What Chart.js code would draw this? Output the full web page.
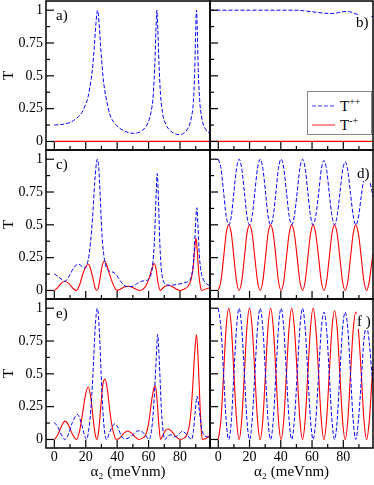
<!DOCTYPE html>
<html>
<head>
<meta charset="utf-8">
<script src="https://cdn.jsdelivr.net/npm/chart.js"></script>
<style>
  body { margin: 0; background: #fff; }
  #wrap { position: relative; width: 374px; height: 485px; overflow: hidden; font-family: "Liberation Serif", "Times New Roman", serif; }
  #wrap canvas { position: absolute; left: 0; top: 0; }
  .pl { position: absolute; font-size: 15px; line-height: 15px; background: #fff; padding: 0 1px; color: #000; }
  #legend { position: absolute; left: 307px; top: 91px; width: 63px; height: 42px; border: 1px solid #888; background: #fff; }
  #legend svg { position: absolute; left: 4px; }
  #legend .txt { position: absolute; left: 32px; font-size: 15px; line-height: 15px; }
  #legend sup { font-size: 10px; vertical-align: 6px; line-height: 0; }
</style>
</head>
<body>
<div id="wrap">
  <div class="pl" style="left:55px;top:8px">a)</div>
  <div class="pl" style="left:355px;top:15px">b)</div>
  <div class="pl" style="left:55px;top:157px">c)</div>
  <div class="pl" style="left:356px;top:166px">d)</div>
  <div class="pl" style="left:55px;top:306px">e)</div>
  <div class="pl" style="left:356px;top:314px">f )</div>
  <div id="legend">
    <svg width="24" height="4" style="top:12px"><line x1="0" y1="2" x2="23" y2="2" stroke="#7878ff" stroke-width="1.5" stroke-dasharray="4 2"/></svg>
    <span class="txt" style="top:7px">T<sup>++</sup></span>
    <svg width="24" height="4" style="top:31px"><line x1="0" y1="2" x2="23" y2="2" stroke="#ff4040" stroke-width="1.2"/></svg>
    <span class="txt" style="top:26px">T<sup>-+</sup></span>
  </div>
</div>
<script>
// tick positions
const xTicks = [0, 10, 20, 30, 40, 50, 60, 70, 80, 90];
const yTicks = [0, 0.125, 0.25, 0.375, 0.5, 0.625, 0.75, 0.875, 1];

// a)
const aX = [0,5,10,14,17.5,19.5,21.5,23.5,24.5,25.5,26.5,27.5,28.5,29.5,30.5,31.5,33.5,35.5,39,43,47,50.5,54,57,59.5,61.5,63,64,64.7,65.3,65.9,66.6,67.6,69,71,74,77,79.5,82,85,87,88.5,89.4,90,90.5,91,91.6,92.5,94,96,99];
const aPP = [0.125,0.13,0.145,0.175,0.22,0.27,0.34,0.48,0.58,0.73,0.9,1.0,0.9,0.72,0.56,0.44,0.3,0.2,0.13,0.09,0.068,0.062,0.07,0.095,0.14,0.22,0.36,0.6,0.85,1.0,0.85,0.6,0.36,0.21,0.13,0.08,0.058,0.052,0.06,0.1,0.17,0.3,0.55,0.85,1.0,0.85,0.55,0.32,0.17,0.1,0.06];
const aMPx = [0, 20, 40, 60, 80, 99];
const aMP = [0, 0, 0, 0, 0, 0];

// b)
const bX = [-5,0,10,20,30,40,50,55,62,68,73,77,81,84,88,92,96,99];
const bPP = [1,1,1,1,1,1,1,0.995,0.985,0.977,0.975,0.982,0.99,0.988,0.972,0.955,0.95,0.952];
const bMPx = [-5, 20, 40, 60, 80, 99];
const bMP = [0, 0, 0, 0, 0, 0];

// c)
const cPPx = [0,3,6.8,9.5,12.5,15.3,17.5,19.5,21.5,23,24.3,25.6,26.6,27.4,28.3,29.2,30.2,31.2,32.5,34,36,38,40,42.5,45,47,50,53,55.5,58,60,61.5,62.8,63.8,64.7,65.5,66.3,67.2,68.2,69.5,71,73,76,80,83,85.3,87,88.3,89.3,90.1,90.7,91.4,92.3,93.5,95,97,99];
const cPP = [0.127,0.1,0.07,0.11,0.175,0.2,0.185,0.17,0.23,0.36,0.55,0.8,0.95,1.0,0.93,0.72,0.45,0.3,0.2,0.155,0.145,0.135,0.11,0.065,0.035,0.03,0.032,0.055,0.07,0.075,0.085,0.12,0.22,0.4,0.7,0.89,0.68,0.35,0.15,0.07,0.045,0.04,0.042,0.05,0.06,0.07,0.1,0.18,0.35,0.55,0.63,0.5,0.27,0.14,0.08,0.05,0.035];
const cMPx = [0,2,4,6.8,9.5,12,14,16,18,20,21.7,23.2,24.8,26,27,28,29.2,30.5,31.8,33.2,35,37,38.7,40,42,44.5,47,49.5,52,54.5,56.5,58.5,60.5,62,63.6,64.8,66,67.4,68.8,70.5,72.6,75,77.5,80,82.5,85,87,88.4,89.4,90.2,91,92,93,93.8,95.5,97.5,99];
const cMP = [0,0.02,0.05,0.07,0.05,0.015,0,0.04,0.12,0.18,0.2,0.16,0.08,0.02,0,0.02,0.1,0.19,0.225,0.2,0.13,0.06,0.015,0,0.01,0.027,0.032,0.025,0.01,0,0.01,0.04,0.1,0.16,0.205,0.16,0.06,0,0.015,0.032,0.038,0.03,0.012,0,0.01,0.03,0.08,0.18,0.32,0.4,0.3,0.12,0.03,0,0.008,0.015,0.02];

// d) and f) share one set of x readings
const dfX = [0,1.7,3.4,5,6.7,8.4,10,11.7,13.3,15,16.7,18.3,20,21.7,23.4,25.1,26.8,28.5,30.2,31.8,33.5,35.2,36.9,38.5,40.2,41.9,43.6,45.3,47,48.7,50.5,52.2,53.9,55.6,57.3,59,60.7,62.4,64.2,65.9,67.6,69.3,71,72.7,74.4,76.1,77.8,79.5,81.2,82.9,84.6,86.3,88,89.7,91.5,93.2,94.9,96.6,98.3,99];
const dPP = [1,0.93,0.75,0.57,0.5,0.57,0.75,0.93, 1,0.93,0.75,0.57,0.5,0.57,0.75,0.93, 1,0.93,0.75,0.57,0.5,0.57,0.75,0.93, 1,0.93,0.75,0.57,0.5,0.57,0.75,0.93, 1,0.93,0.75,0.57,0.5,0.57,0.74,0.92, 0.99,0.92,0.74,0.57,0.5,0.57,0.74,0.91, 0.98,0.91,0.74,0.57,0.5,0.56,0.72,0.85, 0.88,0.84,0.76,0.71];
const dMP = [0,0.07,0.25,0.43,0.5,0.43,0.25,0.07, 0,0.07,0.25,0.43,0.5,0.43,0.25,0.07, 0,0.07,0.25,0.43,0.5,0.43,0.25,0.07, 0,0.07,0.25,0.43,0.5,0.43,0.25,0.07, 0,0.07,0.25,0.43,0.5,0.43,0.25,0.07, 0,0.07,0.25,0.43,0.5,0.43,0.25,0.07, 0,0.07,0.25,0.43,0.5,0.43,0.25,0.07, 0,0.07,0.22,0.28];

// e)
const ePPx = [0,2,4.5,6.8,9,11.5,14.8,17.5,19,20.4,22,23.5,24.8,26,27.4,28.7,29.8,31,32.2,33.3,35,37,38.6,40.5,42.5,44.5,47,50,53,55,57.5,60.3,62,63.5,64.8,65.8,66.8,68.2,69.5,70.4,72.5,74.5,76.5,78.5,81.5,84.5,87.3,88.5,89.6,90.9,92.3,93.8,95.5,97.5,99];
const ePP = [0.13,0.1,0.035,0,0.04,0.13,0.19,0.11,0.04,0,0.08,0.27,0.55,0.85,1.0,0.82,0.5,0.2,0.04,0,0.05,0.1,0.12,0.09,0.03,0.005,0.01,0.035,0.065,0.065,0.04,0,0.08,0.3,0.6,0.8,0.6,0.22,0.04,0,0.03,0.035,0.02,0.03,0.062,0.035,0,0.06,0.2,0.33,0.22,0.08,0.03,0.02,0.015];
const eMPx = [0,2,4.5,6.8,9,11.5,14.2,16,18,19.8,21.6,23.2,24.8,26,27,28.2,29.5,30.9,32.3,33.8,35.5,37.5,39.5,42,44.5,46.7,49,51.5,53.8,56,58,60,62,63.3,64.2,65.2,66.5,67.6,69,70.8,72.6,74.8,77.5,80,82.5,84.5,86.5,88,89.3,90.5,91.6,92.6,93.5,94.2,96,97.5,99];
const eMP = [0,0.03,0.1,0.14,0.11,0.04,0,0.06,0.2,0.34,0.4,0.32,0.15,0.04,0,0.06,0.24,0.42,0.46,0.38,0.2,0.06,0,0.015,0.05,0.065,0.05,0.02,0,0.01,0.03,0.12,0.3,0.39,0.41,0.33,0.12,0,0.03,0.07,0.08,0.06,0.02,0,0.01,0.04,0.15,0.38,0.65,0.8,0.6,0.3,0.08,0,0.005,0.015,0.03];

// f)
const fPP = [1,0.85,0.5,0.15,0,0.15,0.5,0.85, 1,0.85,0.5,0.15,0,0.15,0.5,0.85, 1,0.85,0.5,0.15,0,0.15,0.5,0.85, 1,0.85,0.5,0.15,0,0.15,0.5,0.85, 1,0.85,0.5,0.15,0,0.15,0.5,0.84, 0.97,0.84,0.5,0.15,0,0.15,0.5,0.84, 0.97,0.84,0.5,0.15,0,0.15,0.45,0.76, 0.86,0.74,0.5,0.42];
const fMP = [0,0.15,0.5,0.85,1,0.85,0.5,0.15, 0,0.15,0.5,0.85,1,0.85,0.5,0.15, 0,0.15,0.5,0.85,1,0.85,0.5,0.15, 0,0.15,0.5,0.85,1,0.85,0.5,0.15, 0,0.15,0.5,0.85,1,0.85,0.5,0.15, 0,0.15,0.5,0.84,0.98,0.84,0.5,0.15, 0,0.15,0.5,0.83,0.97,0.83,0.5,0.15, 0,0.14,0.45,0.56];

function pts(xs, ys) {
  return xs.map((x, i) => ({ x: x, y: ys[i] }));
}

const W = 374, H = 485;
const panels = [
  { l: 46,  t: 1,   r: 210, b: 150, xl: false, yl: true,  xmax: 99.1, flat: true,  pp: pts(aX, aPP),   mp: pts(aMPx, aMP) },
  { l: 210, t: 1,   r: 373, b: 150, xl: false, yl: false, xmax: 99.0, flat: true,  pp: pts(bX, bPP),   mp: pts(bMPx, bMP) },
  { l: 46,  t: 150, r: 210, b: 299, xl: false, yl: true,  xmax: 99.1, flat: false, pp: pts(cPPx, cPP), mp: pts(cMPx, cMP) },
  { l: 210, t: 150, r: 373, b: 299, xl: false, yl: false, xmax: 99.0, flat: false, pp: pts(dfX, dPP),  mp: pts(dfX, dMP) },
  { l: 46,  t: 299, r: 210, b: 448, xl: true,  yl: true,  xmax: 99.1, flat: false, pp: pts(ePPx, ePP), mp: pts(eMPx, eMP) },
  { l: 210, t: 299, r: 373, b: 448, xl: true,  yl: false, xmax: 99.0, flat: false, pp: pts(dfX, fPP),  mp: pts(dfX, fMP) }
];

// box round the plot area and inward ticks, placed with the chart's own scales
const frame = {
  id: 'frame',
  afterDraw(chart) {
    const { ctx, chartArea: a, scales } = chart;
    ctx.save();
    ctx.strokeStyle = '#000';
    ctx.lineWidth = 1.2;
    xTicks.forEach(v => {
      const px = scales.x.getPixelForValue(v);
      const len = v % 20 === 0 ? 8 : 4;
      ctx.beginPath(); ctx.moveTo(px, a.bottom); ctx.lineTo(px, a.bottom - len); ctx.stroke();
    });
    yTicks.forEach(v => {
      const py = scales.y.getPixelForValue(v);
      const len = Number.isInteger(v * 4) ? 8 : 4;
      ctx.beginPath(); ctx.moveTo(a.left, py); ctx.lineTo(a.left + len, py); ctx.stroke();
    });
    ctx.lineWidth = 1.5;
    ctx.strokeRect(a.left, a.top, a.right - a.left, a.bottom - a.top);
    ctx.restore();
  }
};

Chart.defaults.font.family = '"Liberation Serif", "Times New Roman", serif';
Chart.defaults.color = '#000';

const wrap = document.getElementById('wrap');

panels.forEach(p => {
  const cv = document.createElement('canvas');
  cv.width = W; cv.height = H;
  wrap.insertBefore(cv, wrap.firstChild);

  new Chart(cv.getContext('2d'), {
    type: 'line',
    data: {
      datasets: [
        { label: 'T++', data: p.pp, borderColor: '#0000ff', borderWidth: 1, borderDash: [4, 2],
          pointRadius: 0, fill: false, cubicInterpolationMode: 'monotone', order: 1 },
        { label: 'T-+', data: p.mp, borderColor: '#ff0000', borderWidth: p.flat ? 1.3 : 1.1,
          pointRadius: 0, fill: false, order: 2,
          cubicInterpolationMode: p.flat ? 'default' : 'monotone', tension: 0 }
      ]
    },
    options: {
      responsive: false,
      animation: false,
      events: [],
      layout: {
        padding: {
          left: p.yl ? 0 : p.l,
          top: p.t,
          right: W - p.r,
          bottom: p.xl ? 0 : H - p.b
        }
      },
      plugins: { legend: { display: false }, tooltip: { enabled: false } },
      scales: {
        x: {
          type: 'linear',
          min: -5.3,
          max: p.xmax,
          afterBuildTicks: s => { s.ticks = xTicks.map(v => ({ value: v })); },
          afterFit: s => {
            s.height = p.xl ? H - p.b : 0;
            s.paddingLeft = s.paddingRight = s.paddingTop = s.paddingBottom = 0;
          },
          ticks: {
            display: p.xl,
            autoSkip: false,
            maxRotation: 0,
            padding: 1,
            font: { size: 14 },
            callback: v => (v % 20 === 0 ? String(v) : '')
          },
          grid: { display: false, drawTicks: false },
          border: { display: false },
          title: { display: p.xl, text: 'α₂ (meVnm)', font: { size: 15 }, padding: { top: 0, bottom: 4 } }
        },
        y: {
          type: 'linear',
          min: -0.065,
          max: 1.07,
          afterBuildTicks: s => { s.ticks = yTicks.map(v => ({ value: v })); },
          afterFit: s => {
            s.width = p.yl ? p.l : 0;
            s.paddingLeft = s.paddingRight = s.paddingTop = s.paddingBottom = 0;
          },
          ticks: {
            display: p.yl,
            autoSkip: false,
            padding: 3,
            font: { size: 14 },
            callback: v => (Number.isInteger(v * 4) ? String(v) : '')
          },
          grid: { display: false, drawTicks: false },
          border: { display: false },
          title: { display: p.yl, text: 'T', font: { size: 15 }, padding: { top: 0, bottom: 0 } }
        }
      }
    },
    plugins: [frame]
  });
});
</script>
</body>
</html>
